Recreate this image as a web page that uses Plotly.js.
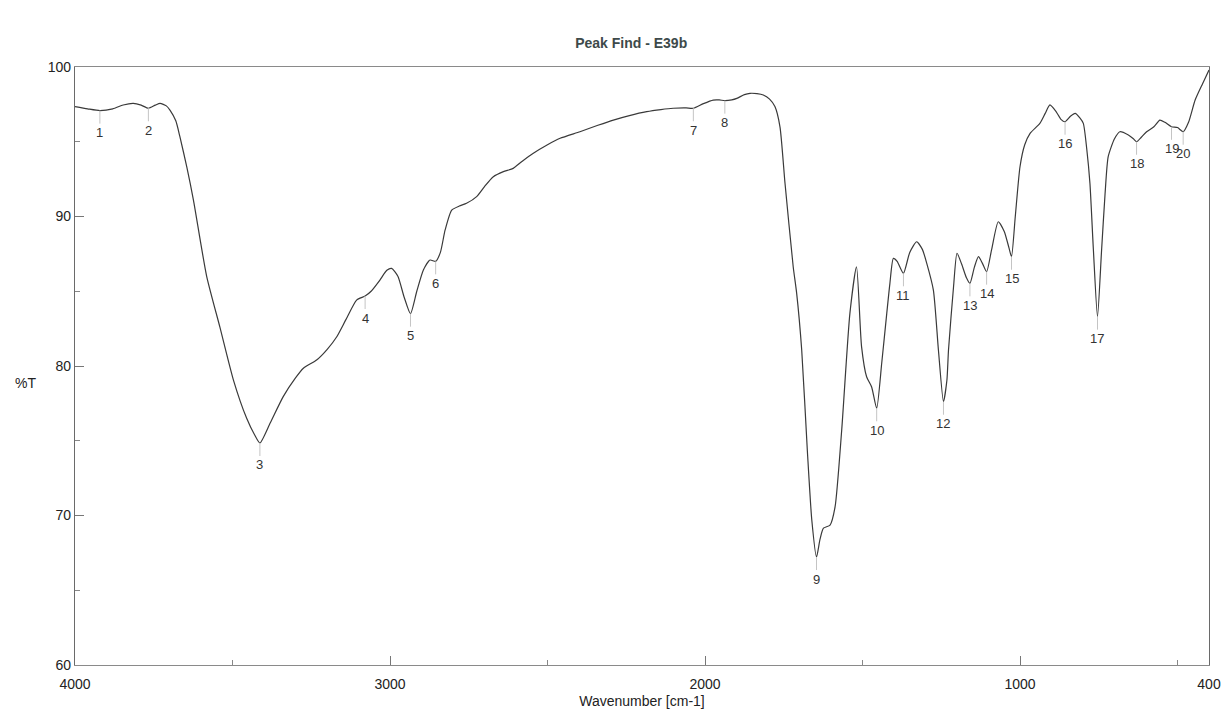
<!DOCTYPE html>
<html>
<head>
<meta charset="utf-8">
<script src="https://cdn.plot.ly/plotly-3.0.1.min.js"></script>
<style>
  html, body { margin: 0; padding: 0; background: #fff; }
  #chart { width: 1228px; height: 714px; }
</style>
</head>
<body>
<div id="chart"></div>
<script>
// IR spectrum of sample E39b: wavenumber (cm-1) vs transmittance (%T)
const wavenumber = [
  4000, 3960, 3921, 3880, 3847, 3815, 3790, 3767, 3745, 3730, 3710, 3698, 3680, 3667,
  3645, 3624, 3582, 3540, 3497, 3455, 3430, 3413, 3380, 3339, 3300, 3275, 3233, 3200,
  3169, 3140, 3106, 3079, 3060, 3032, 3010, 2995, 2975, 2955, 2935, 2915, 2894, 2873,
  2855, 2840, 2825, 2804, 2780, 2757, 2725, 2700, 2672, 2640, 2609, 2580, 2545, 2500,
  2460, 2397, 2340, 2291, 2240, 2185, 2140, 2101, 2060, 2037, 2005, 1974, 1955, 1937,
  1915, 1899, 1875, 1857, 1835, 1815, 1795, 1778, 1762, 1746, 1720, 1709, 1693, 1675,
  1661, 1646, 1635, 1624, 1603, 1587, 1566, 1540, 1519, 1503, 1487, 1471, 1455, 1439,
  1423, 1413, 1402, 1390, 1370, 1350, 1328, 1310, 1296, 1275, 1259, 1243, 1232, 1227,
  1211, 1200, 1185, 1170, 1159, 1145, 1132, 1120, 1106, 1090, 1069, 1050, 1035, 1027,
  1015, 1000, 985, 968, 937, 920, 905, 885, 870, 857, 840, 825, 810, 799, 788, 778,
  767, 754, 741, 730, 720, 700, 683, 656, 640, 630, 615, 598, 575, 556, 540, 519,
  500, 482, 465, 444, 420, 400
];
const transmittance = [
  97.35, 97.2, 97.08, 97.2, 97.46, 97.57, 97.45, 97.24, 97.45, 97.57, 97.4, 97.1, 96.4, 95.34,
  93.3, 91.1, 86.0, 82.6, 79.06, 76.5, 75.4, 74.85, 76.2, 77.95, 79.2, 79.85, 80.4, 81.1,
  81.96, 83.1, 84.41, 84.68, 85.0, 85.75, 86.4, 86.53, 86.0, 84.6, 83.5, 85.0, 86.42, 87.09,
  87.0, 87.6, 89.1, 90.43, 90.7, 90.88, 91.33, 92.0, 92.66, 93.0, 93.22, 93.7, 94.23, 94.8,
  95.23, 95.67, 96.1, 96.45, 96.75, 97.01, 97.15, 97.24, 97.26, 97.24, 97.55, 97.79, 97.8, 97.75,
  97.8, 97.9, 98.15, 98.24, 98.22, 98.13, 97.85, 97.35, 96.0, 92.22, 86.64, 84.86, 81.07, 74.3,
  69.7, 67.22, 68.4, 69.15, 69.36, 70.59, 75.72, 83.52, 86.64, 81.3, 79.28, 78.6, 77.17, 80.18,
  83.52, 85.53, 87.2, 87.0, 86.2, 87.6, 88.31, 87.8, 86.87, 85.08, 81.07, 77.61, 79.06, 81.07,
  85.3, 87.54, 86.8, 85.9, 85.53, 86.6, 87.31, 86.9, 86.31, 87.8, 89.65, 89.0, 87.9, 87.31,
  90.0, 93.33, 94.8, 95.56, 96.23, 96.9, 97.46, 97.0, 96.5, 96.34, 96.7, 96.9, 96.6, 96.23, 94.5, 92.22,
  87.76, 83.3, 87.76, 91.5, 94.0, 95.2, 95.67, 95.45, 95.2, 95.0, 95.3, 95.67, 96.0, 96.45, 96.3, 96.0,
  95.95, 95.67, 96.3, 97.79, 98.9, 99.8
];

// Picked peaks: numbers, positions and transmittance
const peakNumbers = ["1","2","3","4","5","6","7","8","9","10","11","12","13","14","15","16","17","18","19","20"];
const peakWavenumber = [3921, 3767, 3413, 3079, 2935, 2855, 2037, 1937, 1646, 1455, 1370, 1243, 1159, 1106, 1027, 857, 754, 630, 519, 482];
const peakT = [97.08, 97.24, 74.85, 84.68, 83.5, 87.0, 97.24, 97.75, 67.22, 77.17, 86.2, 77.61, 85.53, 86.31, 87.31, 96.34, 83.3, 95.0, 96.0, 95.67];

// Axis ticks
const xTicks = [4000, 3000, 2000, 1000, 400];
const xMinorTicks = [3500, 2500, 1500, 500];
const yTicks = [100, 90, 80, 70, 60];
const yMinorTicks = [95, 85, 75, 65];

const FONT = "Liberation Sans, Arial, sans-serif";

const spectrum = {
  type: "scatter",
  mode: "lines",
  x: wavenumber,
  y: transmittance,
  line: { color: "#3a3a3a", width: 1.2, shape: "spline", smoothing: 0.6 },
  hoverinfo: "x+y"
};

const peakLabels = peakNumbers.map((label, i) => ({
  x: peakWavenumber[i],
  y: peakT[i],
  xref: "x",
  yref: "y",
  text: label,
  showarrow: true,
  arrowhead: 0,
  arrowwidth: 1,
  arrowcolor: "#c4c4c4",
  ax: 0,
  ay: 22,
  standoff: 0,
  font: { family: FONT, size: 13, color: "#333" }
}));

const layout = {
  width: 1228,
  height: 714,
  margin: { l: 75, r: 19, t: 67, b: 49 },
  paper_bgcolor: "#fff",
  plot_bgcolor: "#fff",
  showlegend: false,
  font: { family: FONT, color: "#333" },
  title: {
    text: "<b>Peak Find - E39b</b>",
    font: { family: FONT, size: 14, color: "#3d4a4a" },
    x: 0.514,
    xanchor: "center",
    xref: "container",
    y: 0.94,
    yanchor: "middle",
    yref: "container"
  },
  xaxis: {
    range: [4000, 400],
    tickvals: xTicks,
    ticktext: xTicks.map(String),
    ticks: "inside",
    ticklen: 9,
    tickcolor: "#777",
    ticklabelstandoff: 6,
    tickfont: { family: FONT, size: 14, color: "#222" },
    minor: { tickvals: xMinorTicks, ticks: "inside", ticklen: 5, tickcolor: "#888" },
    showgrid: false,
    zeroline: false,
    showline: true,
    linecolor: "#8a8a8a",
    linewidth: 1.2,
    mirror: true,
    title: { text: "Wavenumber [cm-1]", font: { family: FONT, size: 14, color: "#222" }, standoff: 5 }
  },
  yaxis: {
    range: [60, 100],
    tickvals: yTicks,
    ticktext: yTicks.map(String),
    ticks: "inside",
    ticklen: 9,
    tickcolor: "#777",
    tickfont: { family: FONT, size: 14, color: "#222" },
    minor: { tickvals: yMinorTicks, ticks: "inside", ticklen: 5, tickcolor: "#888" },
    showgrid: false,
    zeroline: false,
    showline: true,
    linecolor: "#6a6a6a",
    linewidth: 1.2,
    mirror: true
  },
  annotations: peakLabels.concat([{
    text: "%T",
    xref: "paper",
    yref: "paper",
    x: -0.044,
    y: 0.4716,
    xanchor: "center",
    yanchor: "middle",
    showarrow: false,
    font: { family: FONT, size: 14, color: "#222" }
  }])
};

Plotly.newPlot("chart", [spectrum], layout, { displayModeBar: false, staticPlot: true });
</script>
</body>
</html>
